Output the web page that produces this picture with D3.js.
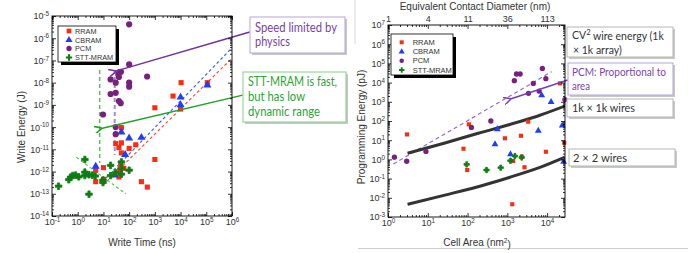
<!DOCTYPE html>
<html><head><meta charset="utf-8">
<script src="https://cdn.jsdelivr.net/npm/d3@7"></script>
<style>body{margin:0;background:#fff}svg{display:block}</style>
</head><body><svg id="c" width="688" height="253"></svg>
<script>
// ---------- LEFT PANEL DATA : Write time (ns) vs Write energy (J) ----------
const seriesNames = ["RRAM", "CBRAM", "PCM", "STT-MRAM"];
const leftRramTime   = [10500, 5100, 1000, 1e4, 50, 30, 50, 40, 100, 180, 50, 1000, 47, 10, 5, 43, 62, 5, 10, 300, 510, 40, 1.1e5];
const leftRramEnergy = [1e-8, 2.5e-9, 7.4e-10, 6.5e-10, 9.5e-11, 1.8e-11, 1.96e-11, 1.2e-11, 1.1e-11, 1.6e-11, 6.9e-12, 3.5e-12, 2.1e-12, 1.5e-12, 1.15e-12, 1.15e-12, 1.4e-12, 3.5e-13, 4.5e-13, 3.5e-13, 2e-13, 5.7e-13, 1e-8];
const leftCbramTime   = [1.1e5, 1e4, 1e4, 50, 100, 300, 70, 5, 27.5];
const leftCbramEnergy = [7.8e-9, 2.2e-9, 1e-9, 5.9e-11, 3.2e-11, 3.4e-11, 5.8e-12, 1.7e-12, 6.9e-13];
const leftPcmTime   = [100, 100, 42, 48, 38, 40, 19, 30, 100, 500, 100, 19, 30, 40, 47, 9.6, 30, 30];
const leftPcmEnergy = [4.2e-6, 6.6e-8, 3e-8, 3.1e-8, 2.3e-8, 1.8e-8, 1.4e-8, 1e-8, 1e-8, 1.9e-8, 6.6e-9, 3.1e-9, 3.5e-9, 1.5e-9, 1.2e-9, 3.7e-10, 1e-10, 4.8e-11];
const leftSttTime   = [0.18, 0.45, 0.53, 0.64, 1.1, 0.83, 1.9, 1.9, 1.9, 2.75, 2.75, 3.7, 4.8, 9.6, 9.6, 19, 19, 30, 50, 50, 50, 100];
const leftSttEnergy = [2.2e-13, 4.3e-13, 5.6e-13, 6.6e-13, 5.8e-13, 6.9e-13, 3.5e-12, 9.4e-13, 6.6e-13, 7.2e-13, 9.6e-14, 6.9e-13, 6.3e-13, 4.1e-13, 3.2e-13, 1.9e-12, 6.6e-13, 8.9e-13, 2.7e-12, 1.4e-12, 7.6e-13, 1.15e-12];
// guide lines (time, energy)
const leftRedDashT = [9.6, 1e6],   leftRedDashE = [2.45e-13, 1.26e-7];
const leftBlueDashT = [12.3, 1e6], leftBlueDashE = [5e-13, 3.7e-7];
const leftGreenVertT = [7.2, 7.2], leftGreenVertE = [3.7e-8, 2.4e-12];
const leftGreenDiagT = [0.89, 74], leftGreenDiagE = [4.4e-12, 1e-13];
const leftPurpleVertT = [27.5, 27.5], leftPurpleVertE = [3.7e-8, 5.5e-12];
const leftGreenArrowT = [8.3, 2.6e6], leftGreenArrowE = [8.7e-11, 2.75e-9];
const leftPurpleArrowT = [30, 4.9e6], leftPurpleArrowE = [3.3e-8, 1.9e-6];
const leftXExp = [-1, 0, 1, 2, 3, 4, 5, 6];
const leftYExp = [-14, -13, -12, -11, -10, -9, -8, -7, -6, -5];

// ---------- RIGHT PANEL DATA : Cell area (nm^2) vs Programming energy (pJ) ----------
const rightPcmArea   = [1.45, 2.95, 9, 125, 385, 1500, 1700, 2100, 3400, 4500, 7600, 9300, 6300, 2.8e4];
const rightPcmEnergy = [1.3, 0.8, 2.6, 46, 100, 1.26e4, 2.8e4, 2.8e4, 2750, 9100, 5.5e4, 1.6e4, 3600, 1300];
const rightRramArea   = [3.0, 108, 3350, 870, 2200, 2.7e4, 79, 98, 9300, 1400, 2700, 1330, 2.1e4, 2300];
const rightRramEnergy = [20, 67, 92, 12.6, 17, 7.4, 3.6, 0.28, 2.5, 0.83, 0.39, 0.0046, 9100, 1.4];
const rightCbramArea   = [560, 490, 1200, 6000, 7300, 1.26e4, 2.4e4, 2.6e4];
const rightCbramEnergy = [37, 6.2, 1.85, 31, 2200, 980, 58, 0.76];
const rightSttArea   = [95, 300, 680, 1200, 1550, 2300];
const rightSttEnergy = [0.55, 0.28, 0.37, 0.85, 1.5, 1.26];
const rightPurpleDashA = [1.36, 1.3e4], rightPurpleDashE = [0.58, 3.7e4];
const rightPurpleArrowA = [1200, 3.3e4], rightPurpleArrowE = [1400, 1.38e4];
const wire1kArea   = [3.1, 27, 186, 2300, 6600, 2.8e4];
const wire1kEnergy = [2.1, 7.2, 23, 100, 200, 600];
const wire2Area    = [3.1, 27, 275, 1290, 6600, 2.8e4];
const wire2Energy  = [0.0046, 0.0138, 0.048, 0.126, 0.38, 1.3];
const rightXExp = [0, 1, 2, 3, 4];
const rightYExp = [-3, -2, -1, 0, 1, 2, 3, 4, 5, 6, 7];
const topDiameterLabels = ["1", "4", "11", "36", "113"];

// ---------- styles ----------
const col = { RRAM: "#ff2a12", CBRAM: "#1f3dff", PCM: "#77207e", "STT-MRAM": "#0f7d14" };
const sym = { RRAM: d3.symbolSquare, CBRAM: d3.symbolTriangle, PCM: d3.symbolCircle, "STT-MRAM": d3.symbolCross };
const FONT = "'Liberation Sans', Arial, sans-serif";
const CALL = "Lato, 'Open Sans', sans-serif";

const svg = d3.select("#c");
const defs = svg.append("defs");
function arrowMarker(id, color) {
  defs.append("marker").attr("id", id).attr("viewBox", "0 0 10 10").attr("refX", 1).attr("refY", 5)
    .attr("markerWidth", 5).attr("markerHeight", 5).attr("orient", "auto-start-reverse")
    .append("path").attr("d", "M0,5 L10,0 M0,5 L10,10").attr("stroke", color).attr("stroke-width", 2).attr("fill", "none");
}
arrowMarker("ag", "#22a022"); arrowMarker("ap", "#7030a0"); arrowMarker("ap2", "#7040b0");

function minors(lo, hi) {
  const a = [];
  for (let d = Math.floor(Math.log10(lo)) - 1; d <= Math.ceil(Math.log10(hi)); d++)
    for (let k = 2; k < 10; k++) { const v = k * Math.pow(10, d); if (v > lo * 1.0001 && v < hi * 0.9999) a.push(v); }
  return a;
}
function supLabels(g) {
  g.selectAll(".tick text").each(function (d) {
    const t = d3.select(this); t.text(null);
    t.append("tspan").text("10");
    t.append("tspan").attr("dy", "-0.5em").style("font-size", "6.3px").text(Math.round(Math.log10(d)));
  });
}
function styleAxis(g) {
  g.select(".domain").remove();
  g.selectAll(".tick line").attr("stroke", "#000").attr("stroke-width", 0.8);
  g.selectAll("text").attr("font-family", FONT).attr("font-size", 9).attr("fill", "#333");
}
function frame(x, y, xMaj, yMaj, opts) {
  const [x0, x1] = x.range(), [y1, y0] = y.range();
  const g = svg.append("g");
  const xm = minors(x.domain()[0], x.domain()[1]), ym = minors(y.domain()[0], y.domain()[1]);
  const specs = [
    [d3.axisBottom, x, `translate(0,${y1})`, xMaj, true],
    [d3.axisTop, x, `translate(0,${y0})`, xMaj, false],
    [d3.axisLeft, y, `translate(${x0},0)`, yMaj, true],
    [d3.axisRight, y, `translate(${x1},0)`, yMaj, false]];
  specs.forEach(([ax, sc, tr, maj, lab], i) => {
    const mn = (i < 2) ? xm : ym;
    g.append("g").attr("transform", tr).call(ax(sc).tickValues(mn).tickSize(-2).tickFormat(() => "")).call(styleAxis);
    const a = g.append("g").attr("transform", tr)
      .call(ax(sc).tickValues(maj).tickSize(-4).tickPadding(3).tickFormat(() => "")).call(styleAxis);
    if (lab) a.call(supLabels);
    if (i === 1 && opts && opts.topLabels) {
      a.selectAll(".tick text").text((d, j) => opts.topLabels[j]);
    }
  });
  g.append("rect").attr("x", x0).attr("y", y0).attr("width", x1 - x0).attr("height", y1 - y0)
    .attr("fill", "none").attr("stroke", "#000").attr("stroke-width", 0.9);
}
function line(x, y, xs, ys, color, w, dash, clip, marker, curve) {
  const gen = d3.line().x(d => x(d[0])).y(d => y(d[1]));
  if (curve) gen.curve(curve);
  const p = svg.append("path").datum(xs.map((v, i) => [v, ys[i]])).attr("d", gen)
    .attr("fill", "none").attr("stroke", color).attr("stroke-width", w);
  if (dash) p.attr("stroke-dasharray", dash);
  if (clip) p.attr("clip-path", `url(#${clip})`);
  if (marker) p.attr("marker-start", `url(#${marker})`);
  return p;
}
function points(x, y, xs, ys, name, size) {
  svg.append("g").selectAll("path").data(xs.map((v, i) => [v, ys[i]])).join("path")
    .attr("transform", d => `translate(${x(d[0])},${y(d[1])})`)
    .attr("d", d3.symbol().type(sym[name]).size(size)).attr("fill", col[name])
    .attr("stroke", name === "STT-MRAM" ? col[name] : "none").attr("stroke-width", 0.8).attr("stroke-linejoin", "round");
}
function legend(x0, y0, w, h, ys, mx, tx, size, fs) {
  svg.append("rect").attr("x", x0 + 3).attr("y", y0 + 3).attr("width", w).attr("height", h).attr("fill", "#000");
  svg.append("rect").attr("x", x0).attr("y", y0).attr("width", w).attr("height", h).attr("fill", "#fff")
    .attr("stroke", "#000").attr("stroke-width", 0.8);
  seriesNames.forEach((n, i) => {
    svg.append("path").attr("transform", `translate(${mx},${ys[i]})`).attr("d", d3.symbol().type(sym[n]).size(size)).attr("fill", col[n]);
    svg.append("text").attr("x", tx).attr("y", ys[i] + 2.7).attr("font-family", FONT).attr("font-size", fs)
      .attr("fill", "#333").text(n);
  });
}
function callout(x, y, w, h, border, color, lines, fs) {
  svg.append("rect").attr("x", x + 2).attr("y", y + 2).attr("width", w).attr("height", h).attr("fill", "#c8c8c8");
  svg.append("rect").attr("x", x).attr("y", y).attr("width", w).attr("height", h).attr("fill", "#fff")
    .attr("stroke", border).attr("stroke-width", 1);
  lines.forEach(l => {
    const t = svg.append("text").attr("x", l.x).attr("y", l.y).attr("font-family", CALL).attr("font-size", l.fs || fs)
      .attr("fill", color);
    if (l.w) t.attr("textLength", l.w).attr("lengthAdjust", "spacingAndGlyphs");
    if (l.sup) {
      t.append("tspan").text(l.t[0]);
      t.append("tspan").attr("dy", "-0.45em").style("font-size", "7.5px").text(l.sup);
      t.append("tspan").attr("dy", "0.45em").text(l.t[1]);
    } else t.text(l.t);
  });
}

// ---------- LEFT PANEL ----------
const xL = d3.scaleLog().domain([1e-1, 1e6]).range([52, 232]);
const yL = d3.scaleLog().domain([1e-14, 1e-5]).range([216, 16]);
defs.append("clipPath").attr("id", "clipL").append("rect").attr("x", 52).attr("y", 16).attr("width", 180).attr("height", 200);
defs.append("clipPath").attr("id", "clipR").append("rect").attr("x", 388).attr("y", 25).attr("width", 177).attr("height", 192);

line(xL, yL, leftRedDashT, leftRedDashE, "#ff5040", 1.2, "3,2.5", "clipL");
line(xL, yL, leftBlueDashT, leftBlueDashE, "#3f62ff", 1.2, "3,2.5", "clipL");
line(xL, yL, leftGreenVertT, leftGreenVertE, "#3fb43f", 1.2, "4,3", "clipL");
line(xL, yL, leftGreenDiagT, leftGreenDiagE, "#5cbc5c", 1.1, "3,2.5", "clipL");
line(xL, yL, leftPurpleVertT, leftPurpleVertE, "#a78bd2", 2, "4,3", "clipL");

points(xL, yL, leftRramTime, leftRramEnergy, "RRAM", 26);
points(xL, yL, leftCbramTime, leftCbramEnergy, "CBRAM", 28);
points(xL, yL, leftPcmTime, leftPcmEnergy, "PCM", 30);
points(xL, yL, leftSttTime, leftSttEnergy, "STT-MRAM", 24);

line(xL, yL, leftGreenArrowT, leftGreenArrowE, "#22a022", 1.5, null, null, "ag");
line(xL, yL, leftPurpleArrowT, leftPurpleArrowE, "#7030a0", 1.5, null, null, "ap");

frame(xL, yL, leftXExp.map(e => Math.pow(10, e)), leftYExp.map(e => Math.pow(10, e)));
legend(58, 26, 58, 36, [31, 40, 48.5, 57.5], 69, 75, 22, 7.3);

svg.append("text").attr("transform", "translate(25,127) rotate(-90)").attr("text-anchor", "middle")
  .attr("font-family", FONT).attr("font-size", 10).attr("fill", "#333").text("Write Energy (J)");
svg.append("text").attr("x", 142).attr("y", 246).attr("text-anchor", "middle")
  .attr("font-family", FONT).attr("font-size", 10).attr("fill", "#333").text("Write Time (ns)");

callout(250, 17, 95, 36, "#b9a3d6", "#7a3fa8", [
  { t: "Speed limited by", x: 255, y: 32, w: 82 }, { t: "physics", x: 255, y: 46, w: 35 }], 12.5);
callout(243, 72, 103, 50, "#86cc86", "#2ea336", [
  { t: "STT-MRAM is fast,", x: 248, y: 86, w: 89 }, { t: "but has low", x: 248, y: 101, w: 57 },
  { t: "dynamic range", x: 248, y: 116, w: 72 }], 12.5);

// ---------- RIGHT PANEL ----------
const xR = d3.scaleLog().domain([1, Math.pow(10, 4.45)]).range([388, 565]);
const yR = d3.scaleLog().domain([1e-3, 1e7]).range([217, 25]);

svg.append("line").attr("x1", 355).attr("x2", 355).attr("y1", 0).attr("y2", 44).attr("stroke", "#d8d8d8");
svg.append("line").attr("x1", 358).attr("x2", 688).attr("y1", 248.5).attr("y2", 248.5).attr("stroke", "#cfcfcf");

line(xR, yR, rightPurpleDashA, rightPurpleDashE, "#9a6ad0", 1.2, "4,3", "clipR");
line(xR, yR, wire1kArea, wire1kEnergy, "#333", 3, null, "clipR", null, d3.curveMonotoneX);
line(xR, yR, wire2Area, wire2Energy, "#333", 3, null, "clipR", null, d3.curveMonotoneX);

points(xR, yR, rightRramArea, rightRramEnergy, "RRAM", 17);
points(xR, yR, rightCbramArea, rightCbramEnergy, "CBRAM", 20);
points(xR, yR, rightPcmArea, rightPcmEnergy, "PCM", 22);
points(xR, yR, rightSttArea, rightSttEnergy, "STT-MRAM", 16);

line(xR, yR, rightPurpleArrowA, rightPurpleArrowE, "#7040b0", 1.5, null, null, "ap2");

frame(xR, yR, rightXExp.map(e => Math.pow(10, e)), rightYExp.map(e => Math.pow(10, e)), { topLabels: topDiameterLabels });
legend(391, 34, 62, 41, [42.3, 51.7, 60.7, 70], 401.7, 412.7, 16, 7.5);

svg.append("text").attr("x", 475).attr("y", 10).attr("text-anchor", "middle")
  .attr("font-family", FONT).attr("font-size", 10).attr("fill", "#333").text("Equivalent Contact Diameter (nm)");
svg.append("text").attr("transform", "translate(365,127) rotate(-90)").attr("text-anchor", "middle")
  .attr("font-family", FONT).attr("font-size", 10).attr("fill", "#333").text("Programming Energy (pJ)");
const ca = svg.append("text").attr("x", 477).attr("y", 246).attr("text-anchor", "middle")
  .attr("font-family", FONT).attr("font-size", 10).attr("fill", "#333");
ca.append("tspan").text("Cell Area (nm");
ca.append("tspan").attr("dy", "-0.45em").style("font-size", "6.5px").text("2");
ca.append("tspan").attr("dy", "0.45em").text(")");

callout(567, 27, 106, 30, "#b5b5b5", "#333", [
  { t: ["CV", " wire energy (1k"], sup: "2", x: 572, y: 38.5, fs: 10.5 }, { t: "× 1k array)", x: 573, y: 53.5, fs: 10.5 }], 12);
callout(568, 63, 105, 32, "#b9a3d6", "#7f45a8", [
  { t: "PCM: Proportional to", x: 572, y: 76, w: 94 }, { t: "area", x: 572, y: 90, w: 18 }], 12);
callout(567, 99, 106, 18, "#b5b5b5", "#333", [{ t: "1k × 1k wires", x: 572, y: 112, w: 63 }], 12);
callout(569, 149, 106, 17, "#b5b5b5", "#333", [{ t: "2 × 2 wires", x: 573, y: 162, w: 54 }], 12);
</script></body></html>
